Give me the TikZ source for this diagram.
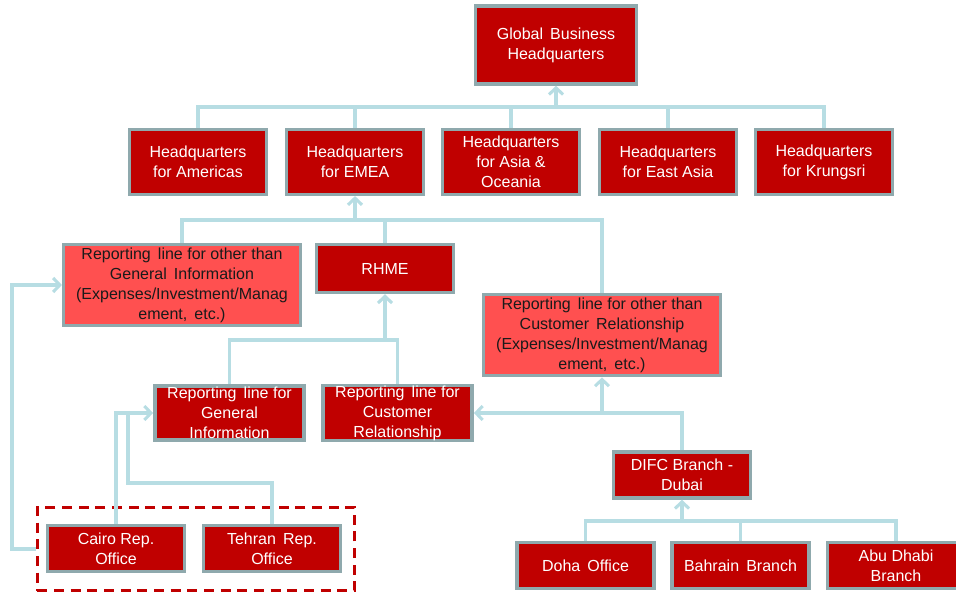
\documentclass[tikz,border=0pt]{standalone}
\usepackage{fontspec}
\setmainfont{Liberation Sans}
\usetikzlibrary{arrows.meta, positioning}
\definecolor{gbRed}{HTML}{C00000}
\definecolor{gbPink}{HTML}{FF5050}
\definecolor{gbEdge}{HTML}{8FA9AD}
\definecolor{gbLink}{HTML}{B7DDE3}
\definecolor{gbInk}{HTML}{1A1A1A}
\tikzset{
  % one unit is one pixel of the reference, y pointing down
  every picture/.append style = {x=0.75pt, y=-0.75pt, font=\fontsize{12}{15}\selectfont},
  unitbox/.style    = {draw=gbEdge, fill=gbRed, text=white, line width=2.6pt,
                       align=center, inner sep=0pt, minimum width=102.5pt, minimum height=36pt},
  linebox/.style    = {unitbox, fill=gbPink, text=gbInk, minimum width=177.5pt, minimum height=61pt},
  link/.style       = {gbLink, line width=2.3pt},
  uplink/.style     = {link, -{Straight Barb[length=5pt, width=10.5pt]}},
}
\begin{document}
\begin{tikzpicture}
  \clip (0,0) rectangle (956,592);
  % head office and regional headquarters
  \node[unitbox, minimum width=120.5pt, minimum height=58.5pt] (global) at (556,45) {Global\, Business\\Headquarters};
  \node[unitbox, minimum height=48.5pt] (amer)  at (198,162) {Headquarters\\for Americas};
  \node[unitbox, minimum height=48.5pt] (emea)  at (355,162) {Headquarters\\for EMEA};
  \node[unitbox, minimum height=48.5pt] (asia)  at (511,162) {Headquarters\\for Asia \&\\Oceania};
  \node[unitbox, minimum height=48.5pt] (east)  at (668,162) {Headquarters\\for East Asia};
  \node[unitbox, minimum height=48.5pt] (krung) at (824,162) {Headquarters\\for Krungsri};
  % reporting lines under EMEA
  \node[linebox] (other1) at (182,285) {Reporting\, line for other than\\General\, Information\\(Expenses/Investment/Manag\\ement,\, etc.)};
  \node[unitbox] (rhme)   at (385,268.5) {RHME};
  \node[linebox] (other2) at (602,335) {Reporting\, line for other than\\Customer\, Relationship\\(Expenses/Investment/Manag\\ement,\, etc.)};
  \node[unitbox, minimum width=112pt, minimum height=40.5pt] (gen)  at (229.5,413) {Reporting\, line for\\General\\Information};
  \node[unitbox, minimum width=112pt, minimum height=40.5pt] (cust) at (397.5,413) {Reporting\, line for\\Customer\\Relationship};
  % offices
  \node[draw=gbRed, dashed, dash pattern=on 7.5pt off 5pt, line width=2.6pt,
        minimum width=238pt, minimum height=62.5pt] (repgroup) at (196,549) {};
  \node[unitbox, minimum height=34.5pt] (cairo)  at (116,548.5) {Cairo Rep.\\Office};
  \node[unitbox, minimum height=34.5pt] (tehran) at (272,548.5) {Tehran\, Rep.\\Office};
  \node[unitbox, minimum height=34.5pt] (difc)   at (682,475) {DIFC Branch -\\Dubai};
  \node[unitbox, minimum height=34.5pt] (doha)   at (585.5,565.5) {Doha\, Office};
  \node[unitbox, minimum height=34.5pt] (bahr)   at (740.5,565.5) {Bahrain\, Branch};
  \node[unitbox, minimum height=34.5pt] (abu)    at (896,565.5) {Abu Dhabi\\Branch};
  % bars the lines meet on
  \coordinate (hqbar)   at (0,107);
  \coordinate (emeabar) at (0,220);
  \coordinate (rhmebar) at (0,340);
  \coordinate (gulfbar) at (0,521);
  \coordinate (bend)    at (128,483);
  \coordinate (loop)    at (12,0);
  % regional headquarters to head office
  \draw[link] (amer.north) -- (amer.north |- hqbar) -- (krung.north |- hqbar) -- (krung.north);
  \foreach \n in {emea, asia, east}
    \draw[link] (\n.north) -- (\n.north |- hqbar);
  \draw[uplink] (global.south |- hqbar) -- (global.south);
  % into EMEA
  \draw[link] (other1.north) -- (other1.north |- emeabar) -- (other2.north |- emeabar) -- (other2.north);
  \draw[link] (rhme.north) -- (rhme.north |- emeabar);
  \draw[uplink] (emea.south |- emeabar) -- (emea.south);
  % into RHME
  \draw[link] (gen.north) -- (gen.north |- rhmebar) -- (cust.north |- rhmebar) -- (cust.north);
  \draw[uplink] (rhme.south |- rhmebar) -- (rhme.south);
  % rep. offices
  \draw[uplink] (cairo.north) |- (gen.west);
  \draw[link] (tehran.north) |- (bend) -- (bend |- gen.west);
  \draw[uplink] (repgroup.west) -- (repgroup.west -| loop) |- (other1.west);
  % Gulf branches
  \draw[uplink] (difc.north) |- (cust.east);
  \draw[uplink] (other2.south |- cust.east) -- (other2.south);
  \draw[link] (doha.north) -- (doha.north |- gulfbar) -- (abu.north |- gulfbar) -- (abu.north);
  \draw[link] (bahr.north) -- (bahr.north |- gulfbar);
  \draw[uplink] (difc.south |- gulfbar) -- (difc.south);
\end{tikzpicture}
\end{document}
